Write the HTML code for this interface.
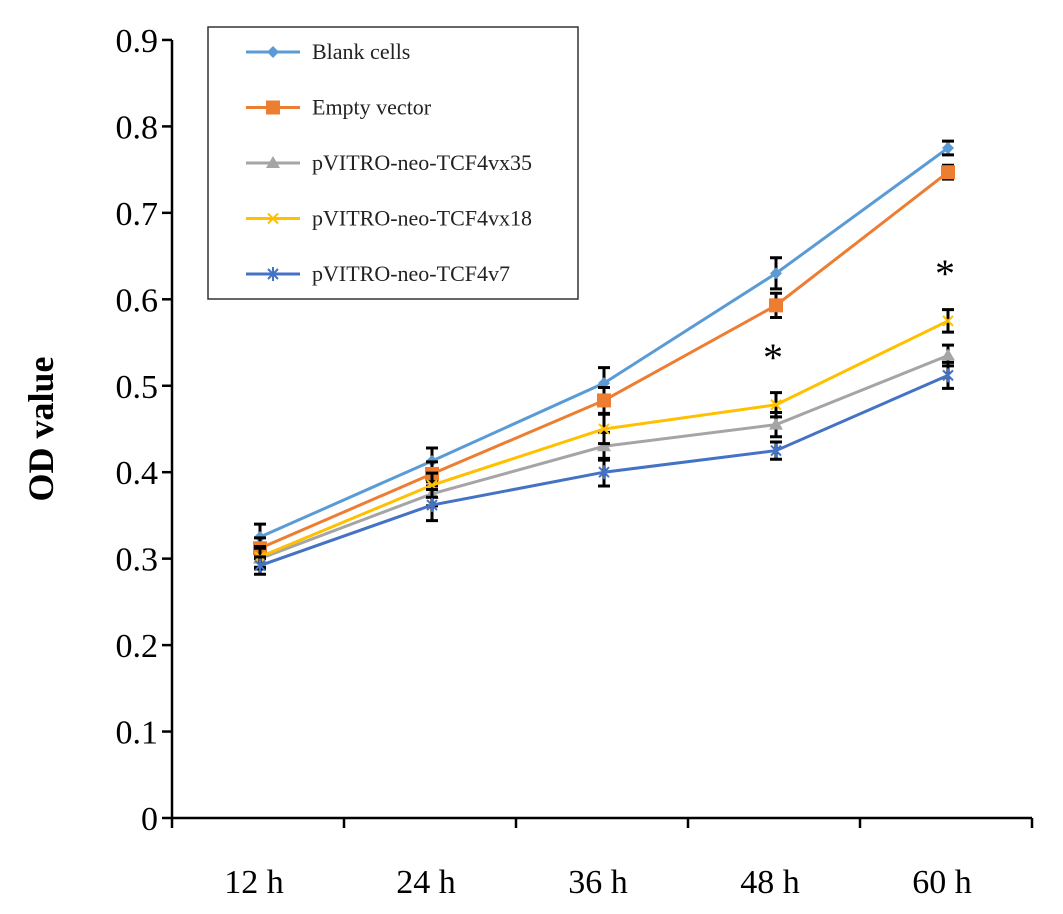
<!DOCTYPE html>
<html><head><meta charset="utf-8"><style>
html,body{margin:0;padding:0;background:#fff;}
svg{display:block;font-family:"Liberation Serif",serif;}
</style></head><body>
<svg id="chart" width="1063" height="914" viewBox="0 0 1063 914"></svg>
<script>
const categories=["12 h","24 h","36 h","48 h","60 h"];
const yTicks=[0,0.1,0.2,0.3,0.4,0.5,0.6,0.7,0.8,0.9];
const seriesNames=["Blank cells","Empty vector","pVITRO-neo-TCF4vx35","pVITRO-neo-TCF4vx18","pVITRO-neo-TCF4v7"];
const blankVals=[0.325,0.413,0.503,0.630,0.775];
const emptyVals=[0.312,0.398,0.483,0.593,0.747];
const vx35Vals=[0.300,0.375,0.430,0.455,0.535];
const vx18Vals=[0.302,0.385,0.450,0.478,0.575];
const v7Vals=[0.292,0.362,0.400,0.425,0.512];
const blankErr=[0.015,0.015,0.018,0.018,0.008];
const emptyErr=[0.012,0.014,0.015,0.014,0.008];
const vx35Err=[0.012,0.014,0.016,0.014,0.012];
const vx18Err=[0.012,0.014,0.017,0.014,0.013];
const v7Err=[0.010,0.018,0.016,0.010,0.015];
const starVals=[null,null,null,0.545,0.642];

const NS="http://www.w3.org/2000/svg";
const svg=document.getElementById('chart');
const X0=172,BW=172,Y0=818,PX=864.5;
const xs=i=>X0+BW*i+BW/2+2;
const ys=v=>Y0-v*PX;
function el(t,a,p){const e=document.createElementNS(NS,t);for(const k in a)e.setAttribute(k,a[k]);(p||svg).appendChild(e);return e;}

const ax=el('line',{x1:X0,y1:Y0,x2:X0,y2:ys(0.9),stroke:'#000','stroke-width':2.5});


const bx=el('line',{x1:X0,y1:Y0,x2:X0+BW*5,y2:Y0,stroke:'#000','stroke-width':2.5});


yTicks.forEach(v=>{
  el('line',{x1:X0-10,x2:X0,y1:ys(v),y2:ys(v),stroke:'#000','stroke-width':2.5});
  const t=el('text',{x:X0-14,y:ys(v)+12,'text-anchor':'end','font-size':34});
  t.textContent=String(v);
  
  
});
for(let i=0;i<=5;i++)el('line',{x1:X0+BW*i,x2:X0+BW*i,y1:Y0,y2:Y0+10,stroke:'#000','stroke-width':2.5});
categories.forEach((c,i)=>{
  const t=el('text',{x:xs(i)-6,y:893,'text-anchor':'middle','font-size':34});
  t.textContent=c;
  
  
});
const yt=el('text',{x:0,y:0,'text-anchor':'middle','font-size':36,'font-weight':'bold',transform:'translate(53,429) rotate(-90)'});
yt.textContent='OD value';



const series=[
 {vals:blankVals,err:blankErr,color:'#5b9bd5',m:'diamond'},
 {vals:emptyVals,err:emptyErr,color:'#ed7d31',m:'square'},
 {vals:vx35Vals,err:vx35Err,color:'#a5a5a5',m:'triangle'},
 {vals:vx18Vals,err:vx18Err,color:'#ffc000',m:'x'},
 {vals:v7Vals,err:v7Err,color:'#4472c4',m:'star'}];
function marker(m,x,y,c,g){
  if(m==='diamond')el('path',{d:`M${x} ${y-6}L${x+6} ${y}L${x} ${y+6}L${x-6} ${y}Z`,fill:c},g);
  else if(m==='square')el('rect',{x:x-7,y:y-7,width:14,height:14,fill:c},g);
  else if(m==='triangle')el('path',{d:`M${x} ${y-7}L${x+7} ${y+5}L${x-7} ${y+5}Z`,fill:c},g);
  else {el('path',{d:`M${x-5} ${y-5}L${x+5} ${y+5}M${x-5} ${y+5}L${x+5} ${y-5}`+(m==='star'?`M${x} ${y-7}L${x} ${y+7}`:''),stroke:c,'stroke-width':2,fill:'none'},g);}
}
series.forEach((s,si)=>{
  const g=el('g',{});
  
  
  el('polyline',{points:s.vals.map((v,i)=>xs(i)+','+ys(v)).join(' '),fill:'none',stroke:s.color,'stroke-width':3},g);
  s.vals.forEach((v,i)=>{
    const x=xs(i),a=ys(v+s.err[i]),b=ys(v-s.err[i]);
    el('path',{d:`M${x} ${a}L${x} ${b}M${x-6} ${a}L${x+6} ${a}M${x-6} ${b}L${x+6} ${b}`,stroke:'#000','stroke-width':3,fill:'none'},g);
    marker(s.m,x,ys(v),s.color,g);
  });
});
starVals.forEach((v,i)=>{ if(v==null)return;
  const t=el('text',{x:xs(i)-3,y:ys(v)+24,'text-anchor':'middle','font-size':40});
  t.textContent='*';
  
  
});

const lg=el('g',{});


el('rect',{x:208,y:27,width:370,height:272,fill:'#fff',stroke:'#333','stroke-width':1.5},lg);
series.forEach((s,i)=>{
  const y=52+i*55.5;
  const e=el('g',{},lg);
  
  
  el('line',{x1:246,x2:300,y1:y,y2:y,stroke:s.color,'stroke-width':3},e);
  marker(s.m,273,y,s.color,e);
  const t=el('text',{x:312,y:y+7,'font-size':22,fill:'#222'},e);
  t.textContent=seriesNames[i];
});
</script>
</body></html>
